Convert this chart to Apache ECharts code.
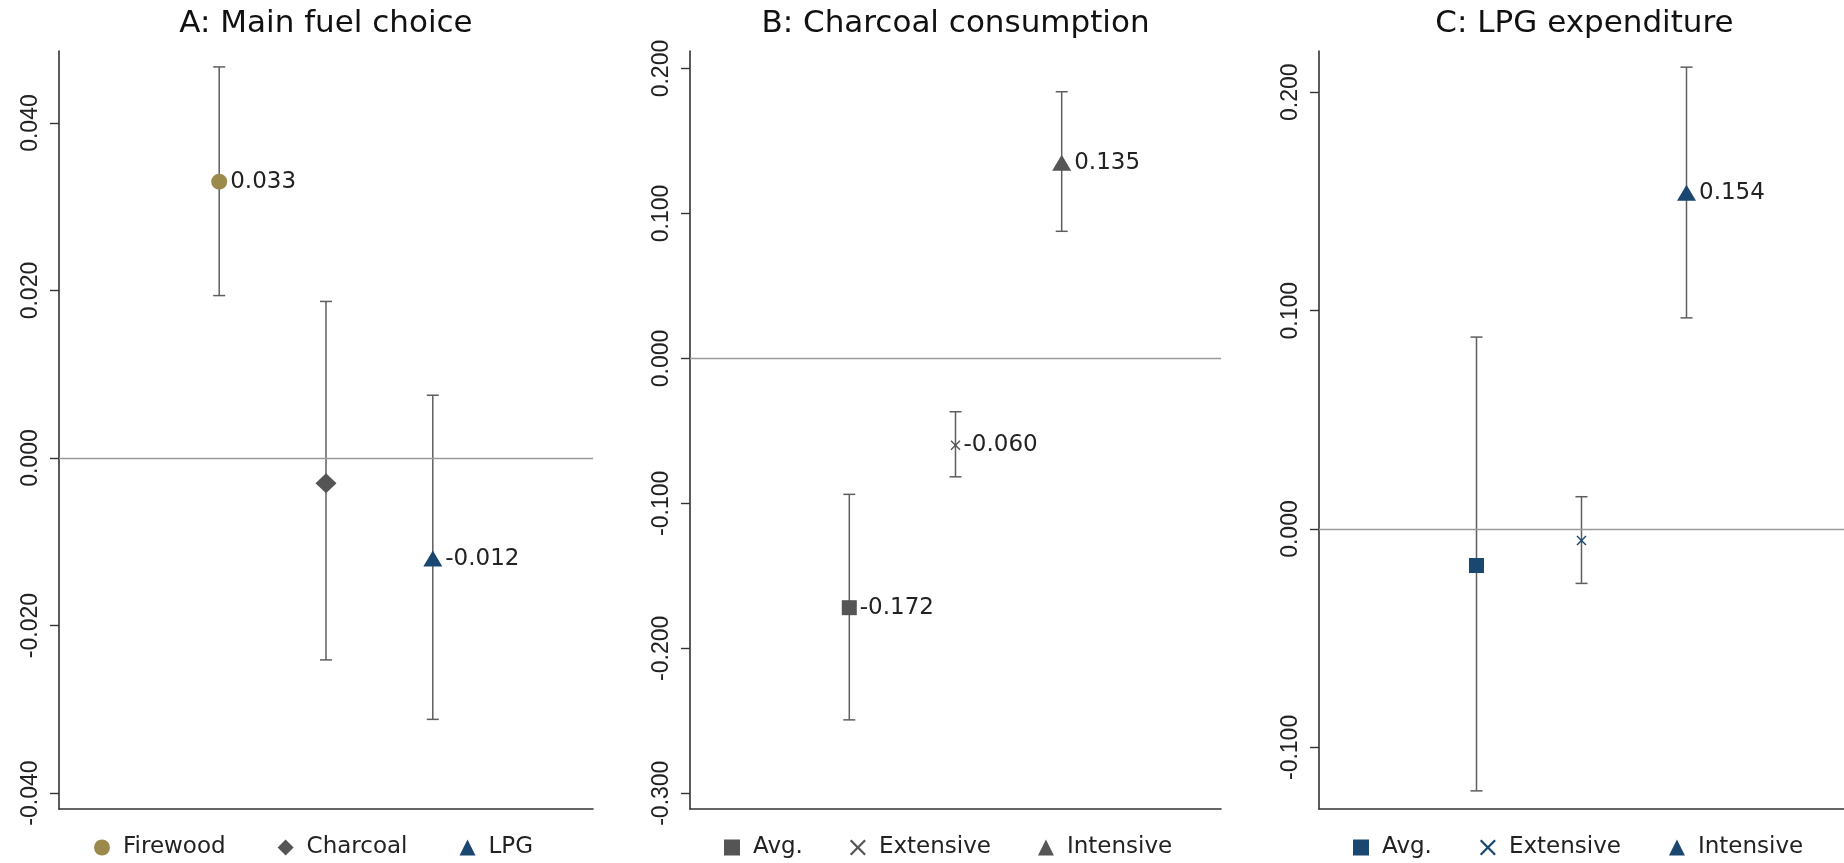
<!DOCTYPE html>
<html>
<head>
<meta charset="utf-8">
<script src="https://cdn.jsdelivr.net/npm/echarts@6/dist/echarts.min.js"></script>
<style>
  html, body { margin: 0; padding: 0; background: #fff; }
  #chart { width: 1844px; height: 863px; }
</style>
</head>
<body>
<div id="chart"></div>
<script>
// ---- data ----
const titles = ["A: Main fuel choice", "B: Charcoal consumption", "C: LPG expenditure"];

const categoriesA = ["Firewood", "Charcoal", "LPG"];
const pointA = [0.033, -0.003, -0.012];
const lowerA = [0.0194, -0.0241, -0.0312];
const upperA = [0.0467, 0.0187, 0.0075];
const labelA = [true, false, true];

const categoriesB = ["Avg.", "Extensive", "Intensive"];
const pointB = [-0.172, -0.060, 0.135];
const lowerB = [-0.2494, -0.0817, 0.0877];
const upperB = [-0.0938, -0.0368, 0.184];
const labelB = [true, true, true];

const categoriesC = ["Avg.", "Extensive", "Intensive"];
const pointC = [-0.0167, -0.0053, 0.154];
const lowerC = [-0.1199, -0.0249, 0.0967];
const upperC = [0.0879, 0.0148, 0.2115];
const labelC = [false, false, true];

const ticksA = [-0.04, -0.02, 0, 0.02, 0.04];
const ticksB = [-0.3, -0.2, -0.1, 0, 0.1, 0.2];
const ticksC = [-0.1, 0, 0.1, 0.2];

const rangeA = [-0.0419, 0.0486];
const rangeB = [-0.3109, 0.2121];
const rangeC = [-0.1282, 0.2189];

const xPos = [1, 2, 3];

// ---- styles ----
const OLIVE = "#9c8a4d", GREY = "#555555", NAVY = "#1a476f";
const CROSS = "path://M0,1 L1,0 L5,4 L9,0 L10,1 L6,5 L10,9 L9,10 L5,6 L1,10 L0,9 L4,5 Z";
const wideFont = "DejaVu Sans";
const narrowFont = "'Liberation Sans', Arial";

const panels = [
  { title: titles[0], cats: categoriesA, pt: pointA, lo: lowerA, hi: upperA, lab: labelA,
    ticks: ticksA, range: rangeA, left: 59, width: 534,
    colors: [OLIVE, GREY, NAVY], symbols: ["circle", "diamond", "triangle"], sizes: [16, [21, 20], [19, 16]],
    legendLeft: 94, legendGap: 52 },
  { title: titles[1], cats: categoriesB, pt: pointB, lo: lowerB, hi: upperB, lab: labelB,
    ticks: ticksB, range: rangeB, left: 690, width: 531,
    colors: [GREY, GREY, GREY], symbols: ["rect", CROSS, "triangle"], sizes: [15, 10, [19, 16]],
    legendLeft: 724, legendGap: 47 },
  { title: titles[2], cats: categoriesC, pt: pointC, lo: lowerC, hi: upperC, lab: labelC,
    ticks: ticksC, range: rangeC, left: 1319, width: 531,
    colors: [NAVY, NAVY, NAVY], symbols: ["rect", CROSS, "triangle"], sizes: [15, 10, [19, 16]],
    legendLeft: 1353, legendGap: 48 }
];

const option = {
  backgroundColor: "#fff",
  animation: false,
  title: [], grid: [], xAxis: [], yAxis: [], legend: [], series: []
};

function errorBar(params, api) {
  const x = api.value(0);
  const a = api.coord([x, api.value(1)]);
  const b = api.coord([x, api.value(2)]);
  const cap = 6;
  const st = { stroke: "#5e5e5e", lineWidth: 1.5 };
  return {
    type: "group",
    children: [
      { type: "line", shape: { x1: a[0], y1: a[1], x2: b[0], y2: b[1] }, style: st },
      { type: "line", shape: { x1: a[0] - cap, y1: a[1], x2: a[0] + cap, y2: a[1] }, style: st },
      { type: "line", shape: { x1: b[0] - cap, y1: b[1], x2: b[0] + cap, y2: b[1] }, style: st }
    ]
  };
}

panels.forEach((p, k) => {
  option.title.push({
    text: p.title,
    left: p.left + p.width / 2,
    textAlign: "center",
    top: 8,
    padding: 0,
    textStyle: { fontFamily: wideFont, fontSize: 31, fontWeight: "normal", color: "#111" }
  });
  option.grid.push({ left: p.left, width: p.width, top: 51, height: 758, containLabel: false });
  option.xAxis.push({
    type: "value", gridIndex: k, min: -0.5, max: 4.5,
    axisLine: { show: true, onZero: false, lineStyle: { color: "#333", width: 1.6 } },
    axisTick: { show: false }, axisLabel: { show: false }, splitLine: { show: false }
  });
  option.yAxis.push({
    type: "value", gridIndex: k, min: p.range[0], max: p.range[1],
    axisLine: { show: true, onZero: false, lineStyle: { color: "#333", width: 1.6 } },
    axisTick: { show: true, length: 9, customValues: p.ticks, lineStyle: { color: "#333", width: 1.4 } },
    axisLabel: {
      show: true, customValues: p.ticks, rotate: 90, margin: 17,
      fontFamily: narrowFont, fontSize: 23, color: "#222",
      formatter: v => v.toFixed(3)
    },
    splitLine: { show: false }
  });

  // error bars + zero reference line
  option.series.push({
    type: "custom", xAxisIndex: k, yAxisIndex: k, z: 1, silent: true,
    renderItem: errorBar,
    encode: { x: 0, y: [1, 2] },
    data: xPos.map((x, i) => [x, p.lo[i], p.hi[i]]),
    markLine: {
      silent: true, symbol: "none", label: { show: false },
      lineStyle: { color: "#9a9a9a", width: 1.3, type: "solid" },
      data: [{ yAxis: 0 }]
    }
  });

  // point estimates, one series per category
  p.cats.forEach((name, i) => {
    option.series.push({
      type: "scatter", name: name, xAxisIndex: k, yAxisIndex: k, z: 3,
      symbol: p.symbols[i], symbolSize: p.sizes[i], symbolKeepAspect: true,
      itemStyle: { color: p.colors[i], opacity: 1 },
      label: {
        show: p.lab[i], position: "right", distance: 3,
        fontFamily: wideFont, fontSize: 23, color: "#222",
        formatter: d => d.value[1].toFixed(3)
      },
      data: [[xPos[i], p.pt[i]]]
    });
  });

  option.legend.push({
    left: p.legendLeft, top: 836, padding: 0, itemGap: p.legendGap,
    itemWidth: 16, itemHeight: 16, selectedMode: false,
    textStyle: { fontFamily: wideFont, fontSize: 23, color: "#222", padding: [0, 0, 0, 8] },
    data: p.cats.map((name, i) => ({
      name: name,
      icon: p.symbols[i],
      itemStyle: { color: p.colors[i] }
    }))
  });
});

const myChart = echarts.init(document.getElementById("chart"));
myChart.setOption(option);
window.addEventListener("resize", () => myChart.resize());
</script>
</body>
</html>
